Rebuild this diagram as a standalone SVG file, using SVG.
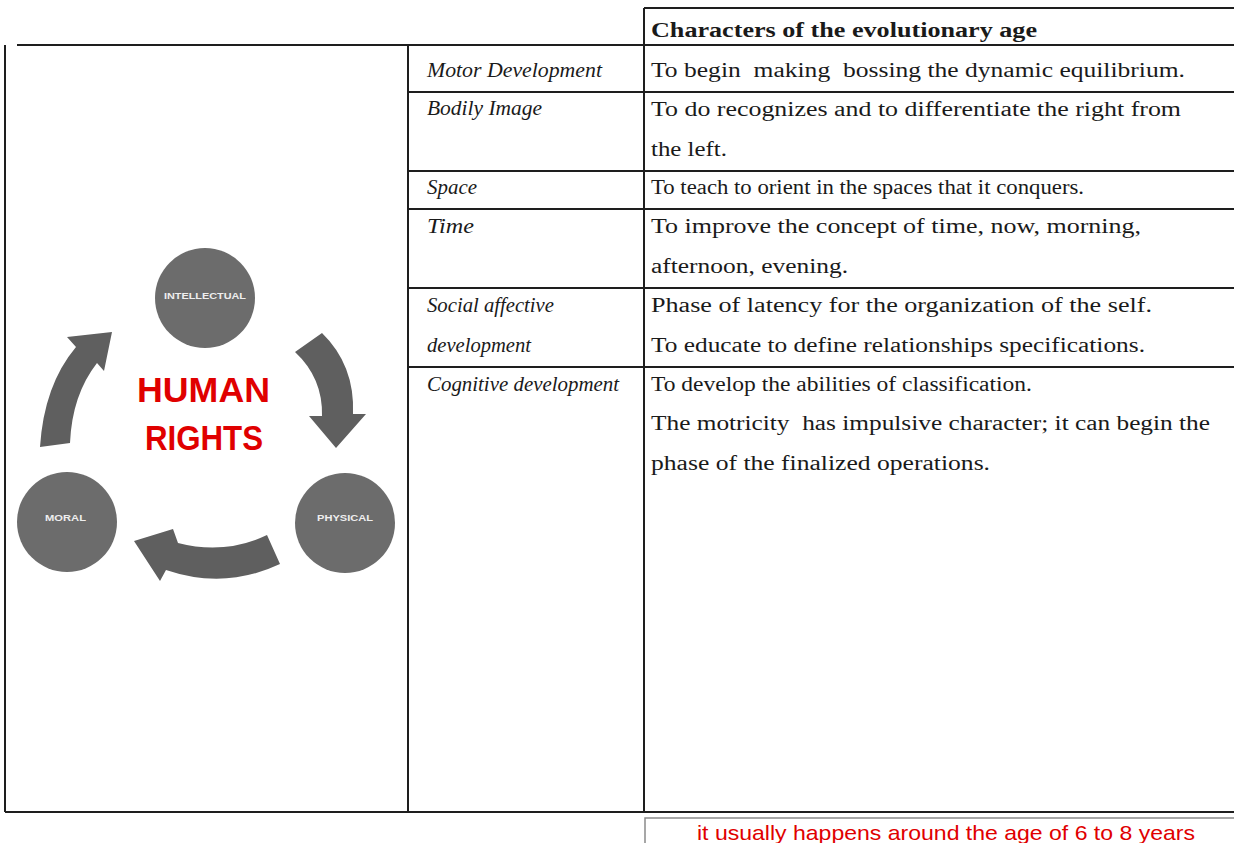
<svg xmlns="http://www.w3.org/2000/svg" width="1234" height="843" viewBox="0 0 1234 843">
<style>
.ln{stroke:#1e1e1e;stroke-width:2;fill:none}
.t{font-family:"Liberation Serif","Times New Roman",serif;font-size:20px;fill:#1a1a1a;white-space:pre}
.i{font-style:italic}
.b{font-weight:bold}
.cl{font-family:"Liberation Sans",Arial,sans-serif;font-size:8.5px;font-weight:bold;fill:#eeeeee}
.hr{font-family:"Liberation Sans",Arial,sans-serif;font-size:35px;font-weight:bold;fill:#e00000}
.circ{fill:#6c6c6c}
.arr{fill:#5f5f5f}
</style>
<rect width="1234" height="843" fill="#ffffff"/>
<g id="table">
<line class="ln" x1="644" y1="8" x2="1234" y2="8"/>
<line class="ln" x1="17" y1="45" x2="1234" y2="45"/>
<line class="ln" x1="5" y1="45" x2="5" y2="812"/>
<line class="ln" x1="408" y1="45" x2="408" y2="812"/>
<line class="ln" x1="644" y1="8" x2="644" y2="812"/>
<line class="ln" x1="408" y1="92" x2="1234" y2="92"/>
<line class="ln" x1="408" y1="171" x2="1234" y2="171"/>
<line class="ln" x1="408" y1="209" x2="1234" y2="209"/>
<line class="ln" x1="408" y1="288" x2="1234" y2="288"/>
<line class="ln" x1="408" y1="367" x2="1234" y2="367"/>
<line class="ln" x1="5" y1="812" x2="1234" y2="812"/>
<text class="t b" x="651" y="37" textLength="386" lengthAdjust="spacingAndGlyphs">Characters of the evolutionary age</text>
<text class="t i" x="427" y="77" textLength="175" lengthAdjust="spacingAndGlyphs">Motor Development</text>
<text class="t" x="651" y="77" textLength="534" lengthAdjust="spacingAndGlyphs">To begin  making  bossing the dynamic equilibrium.</text>
<text class="t i" x="427" y="115" textLength="115" lengthAdjust="spacingAndGlyphs">Bodily Image</text>
<text class="t" x="651" y="116" textLength="530" lengthAdjust="spacingAndGlyphs">To do recognizes and to differentiate the right from</text>
<text class="t" x="651" y="156" textLength="76" lengthAdjust="spacingAndGlyphs">the left.</text>
<text class="t i" x="427" y="194" textLength="50" lengthAdjust="spacingAndGlyphs">Space</text>
<text class="t" x="651" y="194" textLength="433" lengthAdjust="spacingAndGlyphs">To teach to orient in the spaces that it conquers.</text>
<text class="t i" x="427" y="233" textLength="47" lengthAdjust="spacingAndGlyphs">Time</text>
<text class="t" x="651" y="233" textLength="490" lengthAdjust="spacingAndGlyphs">To improve the concept of time, now, morning,</text>
<text class="t" x="651" y="273" textLength="197" lengthAdjust="spacingAndGlyphs">afternoon, evening.</text>
<text class="t i" x="427" y="312" textLength="127" lengthAdjust="spacingAndGlyphs">Social affective</text>
<text class="t" x="651" y="312" textLength="501" lengthAdjust="spacingAndGlyphs">Phase of latency for the organization of the self.</text>
<text class="t i" x="427" y="352" textLength="104" lengthAdjust="spacingAndGlyphs">development</text>
<text class="t" x="651" y="352" textLength="494" lengthAdjust="spacingAndGlyphs">To educate to define relationships specifications.</text>
<text class="t i" x="427" y="391" textLength="192" lengthAdjust="spacingAndGlyphs">Cognitive development</text>
<text class="t" x="651" y="391" textLength="381" lengthAdjust="spacingAndGlyphs">To develop the abilities of classification.</text>
<text class="t" x="651" y="430" textLength="559" lengthAdjust="spacingAndGlyphs">The motricity  has impulsive character; it can begin the</text>
<text class="t" x="651" y="470" textLength="339" lengthAdjust="spacingAndGlyphs">phase of the finalized operations.</text>
</g>
<g id="note">
<rect x="645" y="818" width="600" height="40" fill="none" stroke="#8a8a8a" stroke-width="1.5"/>
<text x="697" y="840" font-family="'Liberation Sans',Arial,sans-serif" font-size="21" fill="#e00000" textLength="498" lengthAdjust="spacingAndGlyphs">it usually happens around the age of 6 to 8 years</text>
</g>
<g id="center">
<text class="hr" x="137" y="402" textLength="133" lengthAdjust="spacingAndGlyphs">HUMAN</text>
<text class="hr" x="145" y="450" textLength="118" lengthAdjust="spacingAndGlyphs">RIGHTS</text>
</g>
<g id="intellectual">
<circle class="circ" cx="205" cy="298" r="50"/>
<text class="cl" x="164" y="299" textLength="82" lengthAdjust="spacingAndGlyphs">INTELLECTUAL</text>
</g>
<g id="physical">
<circle class="circ" cx="345" cy="523" r="50"/>
<text class="cl" x="317" y="521" textLength="56" lengthAdjust="spacingAndGlyphs">PHYSICAL</text>
</g>
<g id="moral">
<circle class="circ" cx="67" cy="522" r="50"/>
<text class="cl" x="45" y="521" textLength="41" lengthAdjust="spacingAndGlyphs">MORAL</text>
</g>
<g id="connectors">
<path class="arr" d="M 295,352 L 322,333 Q 355,365 353,414 L 366,414 L 336,448 L 309,416 L 322,416 Q 323,378 295,352 Z"/>
<path class="arr" d="M 267,535 L 280,564 Q 225,590 166,570 L 160,581 L 134,541 L 173,529 L 178,543 Q 225,555 267,535 Z"/>
<path class="arr" d="M 40,447 L 70,443 Q 72,395 97,363 L 104,371 L 112,332 L 67,337 L 76,347 Q 44,385 40,447 Z"/>
</g>
</svg>
